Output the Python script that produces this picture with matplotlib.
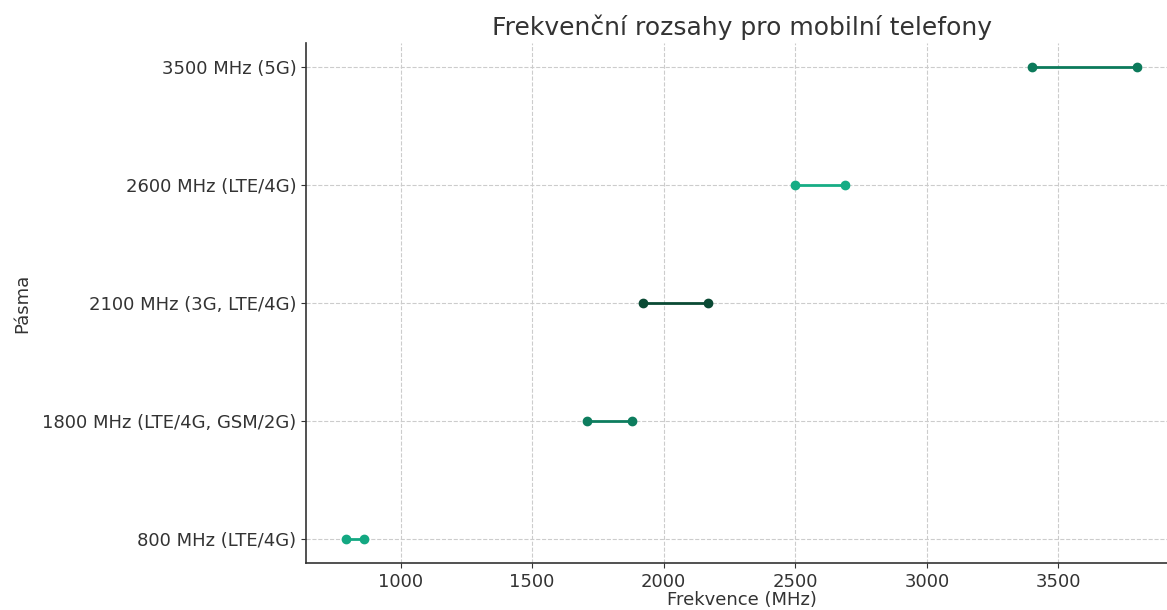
import matplotlib
matplotlib.use("Agg")
import matplotlib.pyplot as plt

bands = ["800 MHz (LTE/4G)", "1800 MHz (LTE/4G, GSM/2G)", "2100 MHz (3G, LTE/4G)",
         "2600 MHz (LTE/4G)", "3500 MHz (5G)"]
start_mhz = [791, 1710, 1920, 2500, 3400]
end_mhz = [862, 1880, 2170, 2690, 3800]
colors = ["#13a882", "#0d7d5e", "#0a4a34", "#16ad85", "#0c7a5b"]

plt.rcParams["font.family"] = ["DejaVu Sans"]
fig = plt.figure(figsize=(11.67, 6.10), dpi=100)
# axes extends slightly past the right edge of the figure, as in the reference
ax = fig.add_axes([0.2622, 0.077, 0.7464, 0.8525])

for i, (b, s, e, c) in enumerate(zip(bands, start_mhz, end_mhz, colors)):
    ax.plot([s, e], [i, i], color=c, lw=2, marker="o", markersize=6)

ax.set_yticks(range(len(bands)))
ax.set_yticklabels(bands)
ax.set_xticks([1000, 1500, 2000, 2500, 3000, 3500])

ax.grid(True, linestyle="--", color="#cccccc", linewidth=0.8)
ax.set_axisbelow(True)
for sp in ["top", "right"]:
    ax.spines[sp].set_visible(False)
for sp in ["left", "bottom"]:
    ax.spines[sp].set_color("#333333")
    ax.spines[sp].set_linewidth(1.2)
ax.tick_params(colors="#333333", labelsize=13, labelcolor="#333333")

ax.set_title("Frekvenční rozsahy pro mobilní telefony", fontsize=18, color="#333333", pad=6)
ax.set_xlabel("Frekvence (MHz)", fontsize=13, color="#333333", labelpad=0)
ax.set_ylabel("Pásma", fontsize=13, color="#333333", labelpad=8)

fig.savefig("out.png", dpi=100)
